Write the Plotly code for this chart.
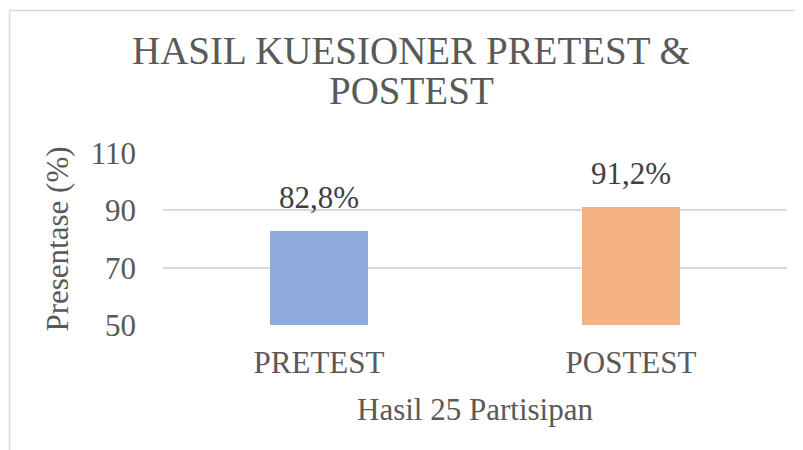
import plotly.graph_objects as go

categories = ["PRETEST", "POSTEST"]
values = [82.8, 91.2]
value_labels = ["82,8%", "91,2%"]
bar_colors = ["#8FAADC", "#F4B183"]
y_ticks = [50, 70, 90, 110]

# page body has an 8px margin, so figure coords = screen coords - 8
OFF = 8
W, H = 803, 450
L, T = 163 - OFF, 153 - OFF
R = W - (787 - OFF)
B = H - (325 - OFF)
pw, ph = W - L - R, H - T - B

def px_x(p):
    return (p - OFF - L) / pw

def px_y(p):
    return (H - B - (p - OFF)) / ph

fig = go.Figure()
fig.add_trace(go.Bar(
    x=categories, y=values, marker=dict(color=bar_colors, line=dict(width=0)),
    width=0.314, showlegend=False, hoverinfo="skip",
))

for c, v, t in zip(categories, values, value_labels):
    fig.add_annotation(x=c, y=v, text=t, showarrow=False, yanchor="bottom",
                       yshift=14, font=dict(family="Liberation Serif", size=31, color="#404040"))

fig.add_annotation(xref="paper", yref="paper", x=px_x(411), y=px_y(74), text="HASIL KUESIONER PRETEST &",
                   showarrow=False, xanchor="center", yanchor="bottom",
                   font=dict(family="Liberation Serif", size=39, color="#595959"))
fig.add_annotation(xref="paper", yref="paper", x=px_x(411), y=px_y(114), text="POSTEST",
                   showarrow=False, xanchor="center", yanchor="bottom",
                   font=dict(family="Liberation Serif", size=39, color="#595959"))

# outer chart border
fig.add_shape(type="line", xref="paper", yref="paper", x0=px_x(9.5), x1=px_x(830), y0=px_y(10.5), y1=px_y(10.5),
              line=dict(color="#D9D9D9", width=1.5))
fig.add_shape(type="line", xref="paper", yref="paper", x0=px_x(9.5), x1=px_x(9.5), y0=px_y(10.5), y1=px_y(480),
              line=dict(color="#D9D9D9", width=1.5))

fig.update_layout(
    width=W, height=H, margin=dict(l=L, r=R, t=T, b=B, autoexpand=False),
    plot_bgcolor="white", paper_bgcolor="white", bargap=0,
    font=dict(family="Liberation Serif", color="#595959"),
)
fig.update_xaxes(range=[-0.5, 1.5], showgrid=False, showline=False, ticks="",
                 tickfont=dict(size=31, color="#595959"), ticklabelstandoff=16, automargin=False,
                 title=dict(text="Hasil 25 Partisipan", font=dict(size=31, color="#595959"), standoff=19))
fig.update_yaxes(range=[50, 110], tickvals=y_ticks, showgrid=True, gridcolor="#D9D9D9", gridwidth=1.5,
                 zeroline=False, showline=False, ticks="", tickfont=dict(size=31, color="#595959"),
                 ticklabelstandoff=26, automargin=False,
                 title=dict(text="Presentase (%)", font=dict(size=31, color="#595959"), standoff=12))

fig.write_html("out.html")
